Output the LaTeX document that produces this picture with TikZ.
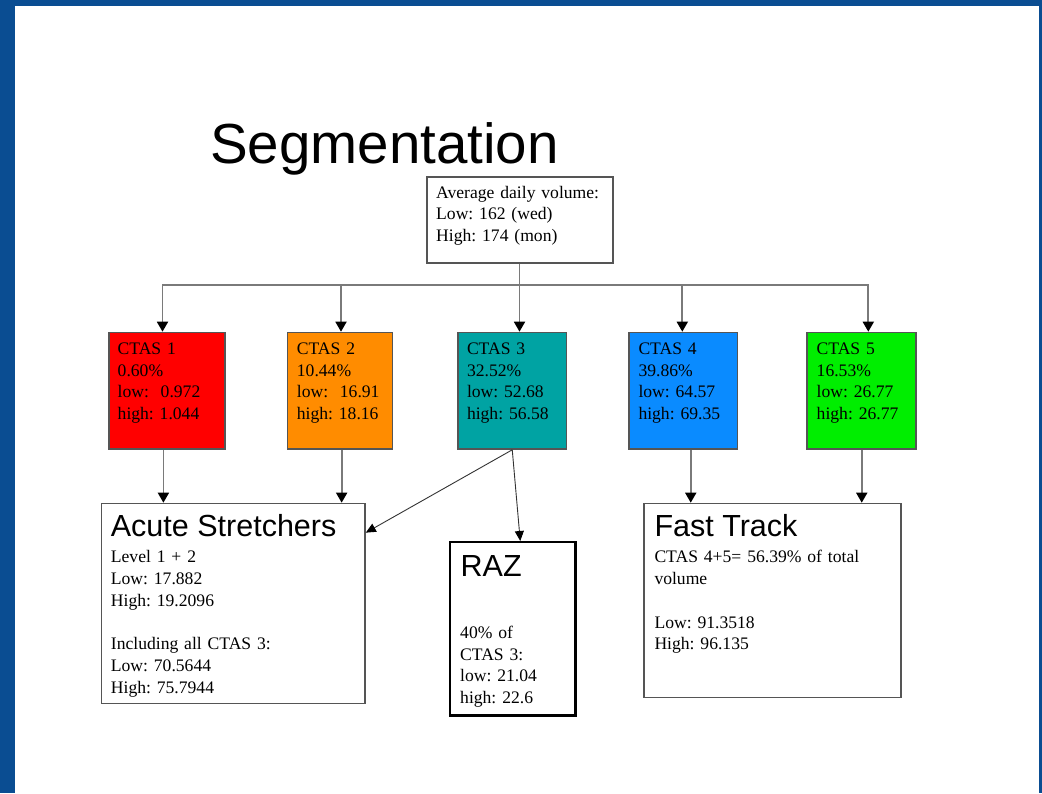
\documentclass[tikz,border=0pt]{standalone}
\usepackage{fontspec}
\setmainfont{Liberation Serif}
\setsansfont{Liberation Sans}
\usetikzlibrary{arrows.meta}

\definecolor{frameblue}{HTML}{0A4D92}
\definecolor{linegray}{HTML}{7A7A7A}
\definecolor{edgegray}{HTML}{555555}
\definecolor{ctasred}{HTML}{FF0000}
\definecolor{ctasorange}{HTML}{FF8C00}
\definecolor{ctasteal}{HTML}{00A3A3}
\definecolor{ctasblue}{HTML}{0A8BFF}
\definecolor{ctasgreen}{HTML}{00EE00}

\begin{document}
\begin{tikzpicture}[x=1pt,y=-1pt,
  frame/.style={draw=edgegray, line width=1.5pt, anchor=north west, inner sep=0pt},
  ctasbox/.style={frame, minimum height=116.6pt, fill=#1},
  body/.style={anchor=base west, inner sep=0pt, text width=240pt, align=left,
    font=\frenchspacing\fontsize{17.6}{21.8}\selectfont},
  heading/.style={anchor=base west, inner sep=0pt, font=\sffamily\fontsize{30.5}{34}\selectfont},
  arr/.style={draw=linegray, line width=1.8pt, -{Triangle[length=10pt,width=11pt,color=black]}},
  thinarr/.style={draw=black!80, line width=0.9pt, -{Triangle[length=10pt,width=9pt,color=black]}}]

% page frame
\fill[frameblue] (0,0) rectangle (1042,793);
\fill[white] (15,6) rectangle (1039,793);
\useasboundingbox (0,0) rectangle (1042,793);

% title
\node[anchor=base west, inner sep=0pt, font=\sffamily\fontsize{56.5}{60}\selectfont]
  (title) at (210,163.3) {Segmentation};

% root box
\node[frame, minimum width=186pt, minimum height=86pt] (root) at (426,176) {};
\node[body] (roottxt) at ([xshift=10pt,yshift=-22pt]root.north west)
  {Average daily volume:\\Low: 162 (wed)\\High: 174 (mon)};

% CTAS boxes
\node[ctasbox=ctasred, minimum width=116.3pt] (c1) at (108,331.7) {};
\node[ctasbox=ctasorange, minimum width=105pt] (c2) at (286.7,331.7) {};
\node[ctasbox=ctasteal, minimum width=108.4pt] (c3) at (457.3,331.7) {};
\node[ctasbox=ctasblue, minimum width=108.4pt] (c4) at (628.3,331.7) {};
\node[ctasbox=ctasgreen, minimum width=109pt] (c5) at (806,331.7) {};

\node[body] (c1txt) at ([xshift=9.5pt,yshift=-22.6pt]c1.north west)
  {CTAS 1\\0.60\%\\low:\ \ 0.972\\high: 1.044};
\node[body] (c2txt) at ([xshift=10pt,yshift=-22.6pt]c2.north west)
  {CTAS 2\\10.44\%\\low:\ \ 16.91\\high: 18.16};
\node[body] (c3txt) at ([xshift=9.5pt,yshift=-22.6pt]c3.north west)
  {CTAS 3\\32.52\%\\low: 52.68\\high: 56.58};
\node[body] (c4txt) at ([xshift=10pt,yshift=-22.6pt]c4.north west)
  {CTAS 4\\39.86\%\\low: 64.57\\high: 69.35};
\node[body] (c5txt) at ([xshift=10.5pt,yshift=-22.6pt]c5.north west)
  {CTAS 5\\16.53\%\\low: 26.77\\high: 26.77};

% result boxes
\node[frame, minimum width=263.6pt, minimum height=200pt] (acute) at (100.7,502.7) {};
\node[heading] (acutettl) at ([xshift=10pt,yshift=-34pt]acute.north west) {Acute Stretchers};
\node[body] (acutetxt) at ([xshift=10pt,yshift=-60pt]acute.north west)
  {Level 1 + 2\\Low: 17.882\\High: 19.2096\\[21.8pt]Including all CTAS 3:\\Low: 70.5644\\High: 75.7944};

\node[frame, draw=black, line width=2.2pt, minimum width=125.3pt, minimum height=173.3pt] (raz) at (449,541) {};
\node[heading] (razttl) at ([xshift=11.5pt,yshift=-35pt]raz.north west) {RAZ};
\node[body] (raztxt) at ([xshift=11pt,yshift=-97.3pt]raz.north west)
  {40\% of\\CTAS 3:\\low: 21.04\\high: 22.6};

\node[frame, minimum width=256.7pt, minimum height=194pt] (fast) at (643.3,502.7) {};
\node[heading] (fastttl) at ([xshift=11pt,yshift=-34pt]fast.north west) {Fast Track};
\node[body] (fasttxt) at ([xshift=11pt,yshift=-60pt]fast.north west)
  {CTAS 4+5= 56.39\% of total\\volume\\[21.8pt]Low: 91.3518\\High: 96.135};

% distribution bus
\coordinate (b1) at (162.5,285);
\coordinate (b2) at (341,285);
\coordinate (b3) at (519.5,285);
\coordinate (b4) at (682.3,285);
\coordinate (b5) at (868.3,285);
\draw[draw=linegray, line width=1.8pt] (root.south -| b3) -- (b3);
\draw[draw=linegray, line width=1.8pt, line cap=rect] (b1) -- (b5);
\draw[arr] (b1) -- (b1 |- c1.north);
\draw[arr] (b2) -- (b2 |- c2.north);
\draw[arr] (b3) -- (b3 |- c3.north);
\draw[arr] (b4) -- (b4 |- c4.north);
\draw[arr] (b5) -- (b5 |- c5.north);

% CTAS groups into the result boxes
\draw[arr] ([xshift=-3.5pt]c1.south) -- ([xshift=-3.5pt]c1.south |- acute.north);
\draw[arr] ([xshift=1.7pt]c2.south) -- ([xshift=1.7pt]c2.south |- acute.north);
\draw[thinarr] (c3.south) -- ([yshift=70.8pt]acute.east);
\draw[thinarr] (c3.south) -- ([xshift=7.5pt]raz.north);
\draw[arr] ([xshift=7.5pt]c4.south) -- ([xshift=7.5pt]c4.south |- fast.north);
\draw[arr] ([xshift=0.5pt]c5.south) -- ([xshift=0.5pt]c5.south |- fast.north);
\end{tikzpicture}
\end{document}
